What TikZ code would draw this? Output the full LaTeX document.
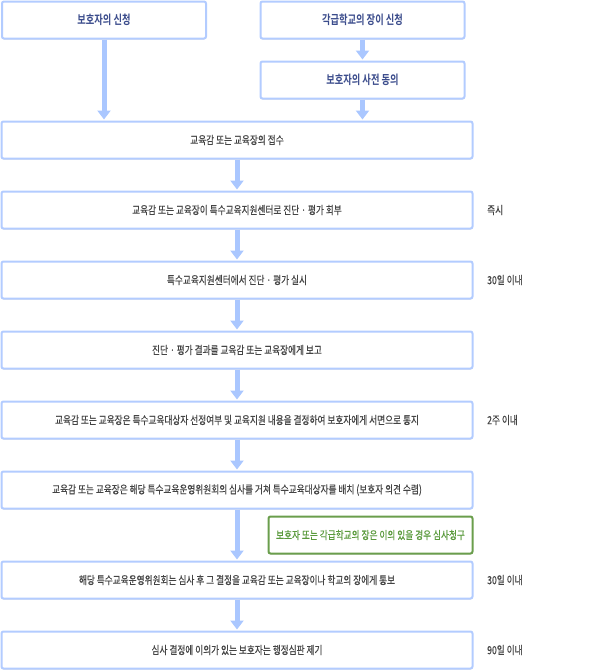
\documentclass[tikz,border=0pt]{standalone}
\usepackage{fontspec}
\usetikzlibrary{arrows.meta,shadows}
\newfontfamily\krfont[FakeStretch=0.78,FakeBold=0.4]{Noto Sans CJK KR}
\newfontfamily\krbold[FakeStretch=0.74]{Noto Sans CJK KR Bold}
\definecolor{boxline}{HTML}{B3CCFF}
\definecolor{arrowc}{HTML}{AAC7FF}
\definecolor{txtgray}{HTML}{444444}
\definecolor{txtblue}{HTML}{3B4C8C}
\definecolor{greenline}{HTML}{6A9E4C}
\definecolor{greentxt}{HTML}{5A9A3C}
\tikzset{
  x=1pt, y=-1pt,
  flowbox/.style={draw=boxline, line width=2pt, rounded corners=2pt, fill=white,
    drop shadow={shadow xshift=0pt, shadow yshift=-1pt, opacity=0.12, fill=black},
    inner sep=0pt, font=\krfont\fontsize{11.1}{13}\selectfont, text=txtgray},
  topbox/.style={flowbox, font=\krbold\fontsize{12.5}{14}\selectfont, text=txtblue},
  greenbox/.style={flowbox, draw=greenline, font=\krfont\fontsize{11.1}{13}\selectfont, text=greentxt},
  sidelabel/.style={anchor=west, inner sep=0pt, font=\krfont\fontsize{11.1}{13}\selectfont, text=txtgray},
  flowarrow/.style={draw=arrowc, line width=5pt, -{Triangle[width=13pt,length=9pt]}, shorten >=1pt}
}
\begin{document}
\begin{tikzpicture}
\useasboundingbox (0,0) rectangle (606,670);
% top row
\node[topbox, minimum width=204pt, minimum height=37pt] (A) at (104,20) {보호자의 신청};
\node[topbox, minimum width=204pt, minimum height=37pt] (B) at (362.5,20) {각급학교의 장이 신청};
\node[topbox, minimum width=204pt, minimum height=37pt] (C) at (362.5,80) {보호자의 사전 동의};
% main column
\node[flowbox, minimum width=471pt, minimum height=37pt] (M1) at (237,140) {교육감 또는 교육장의 접수};
\node[flowbox, minimum width=471pt, minimum height=37pt] (M2) at (237,210) {교육감 또는 교육장이 특수교육지원센터로 진단 · 평가 회부};
\node[flowbox, minimum width=471pt, minimum height=37pt] (M3) at (237,280) {특수교육지원센터에서 진단 · 평가 실시};
\node[flowbox, minimum width=471pt, minimum height=37pt] (M4) at (237,350) {진단 · 평가 결과를 교육감 또는 교육장에게 보고};
\node[flowbox, minimum width=471pt, minimum height=37pt] (M5) at (237,420) {교육감 또는 교육장은 특수교육대상자 선정여부 및 교육지원 내용을 결정하여 보호자에게 서면으로 통지};
\node[flowbox, minimum width=471pt, minimum height=37pt] (M6) at (237,490) {교육감 또는 교육장은 해당 특수교육운영위원회의 심사를 거쳐 특수교육대상자를 배치 (보호자 의견 수렴)};
\node[greenbox, minimum width=204pt, minimum height=37pt] (G) at (370.5,535) {보호자 또는 각급학교의 장은 이의 있을 경우 심사청구};
\node[flowbox, minimum width=471pt, minimum height=37pt] (M7) at (237,580) {해당 특수교육운영위원회는 심사 후 그 결정을 교육감 또는 교육장이나 학교의 장에게 통보};
\node[flowbox, minimum width=471pt, minimum height=37pt] (M8) at (237,650) {심사 결정에 이의가 있는 보호자는 행정심판 제기};
% side labels
\node[sidelabel] (L2) at (487,210) {즉시};
\node[sidelabel] (L3) at (487,280) {30일 이내};
\node[sidelabel] (L5) at (487,420) {2주 이내};
\node[sidelabel] (L7) at (487,580) {30일 이내};
\node[sidelabel] (L8) at (487,650) {90일 이내};
% arrows
\draw[flowarrow] (A.south) -- (A.south |- M1.north);
\draw[flowarrow] (B.south) -- (C.north);
\draw[flowarrow] (C.south) -- (C.south |- M1.north);
\draw[flowarrow] (M1.south) -- (M2.north);
\draw[flowarrow] (M2.south) -- (M3.north);
\draw[flowarrow] (M3.south) -- (M4.north);
\draw[flowarrow] (M4.south) -- (M5.north);
\draw[flowarrow] (M5.south) -- (M6.north);
\draw[flowarrow] (M6.south) -- (M7.north);
\draw[flowarrow] (M7.south) -- (M8.north);
\end{tikzpicture}
\end{document}
